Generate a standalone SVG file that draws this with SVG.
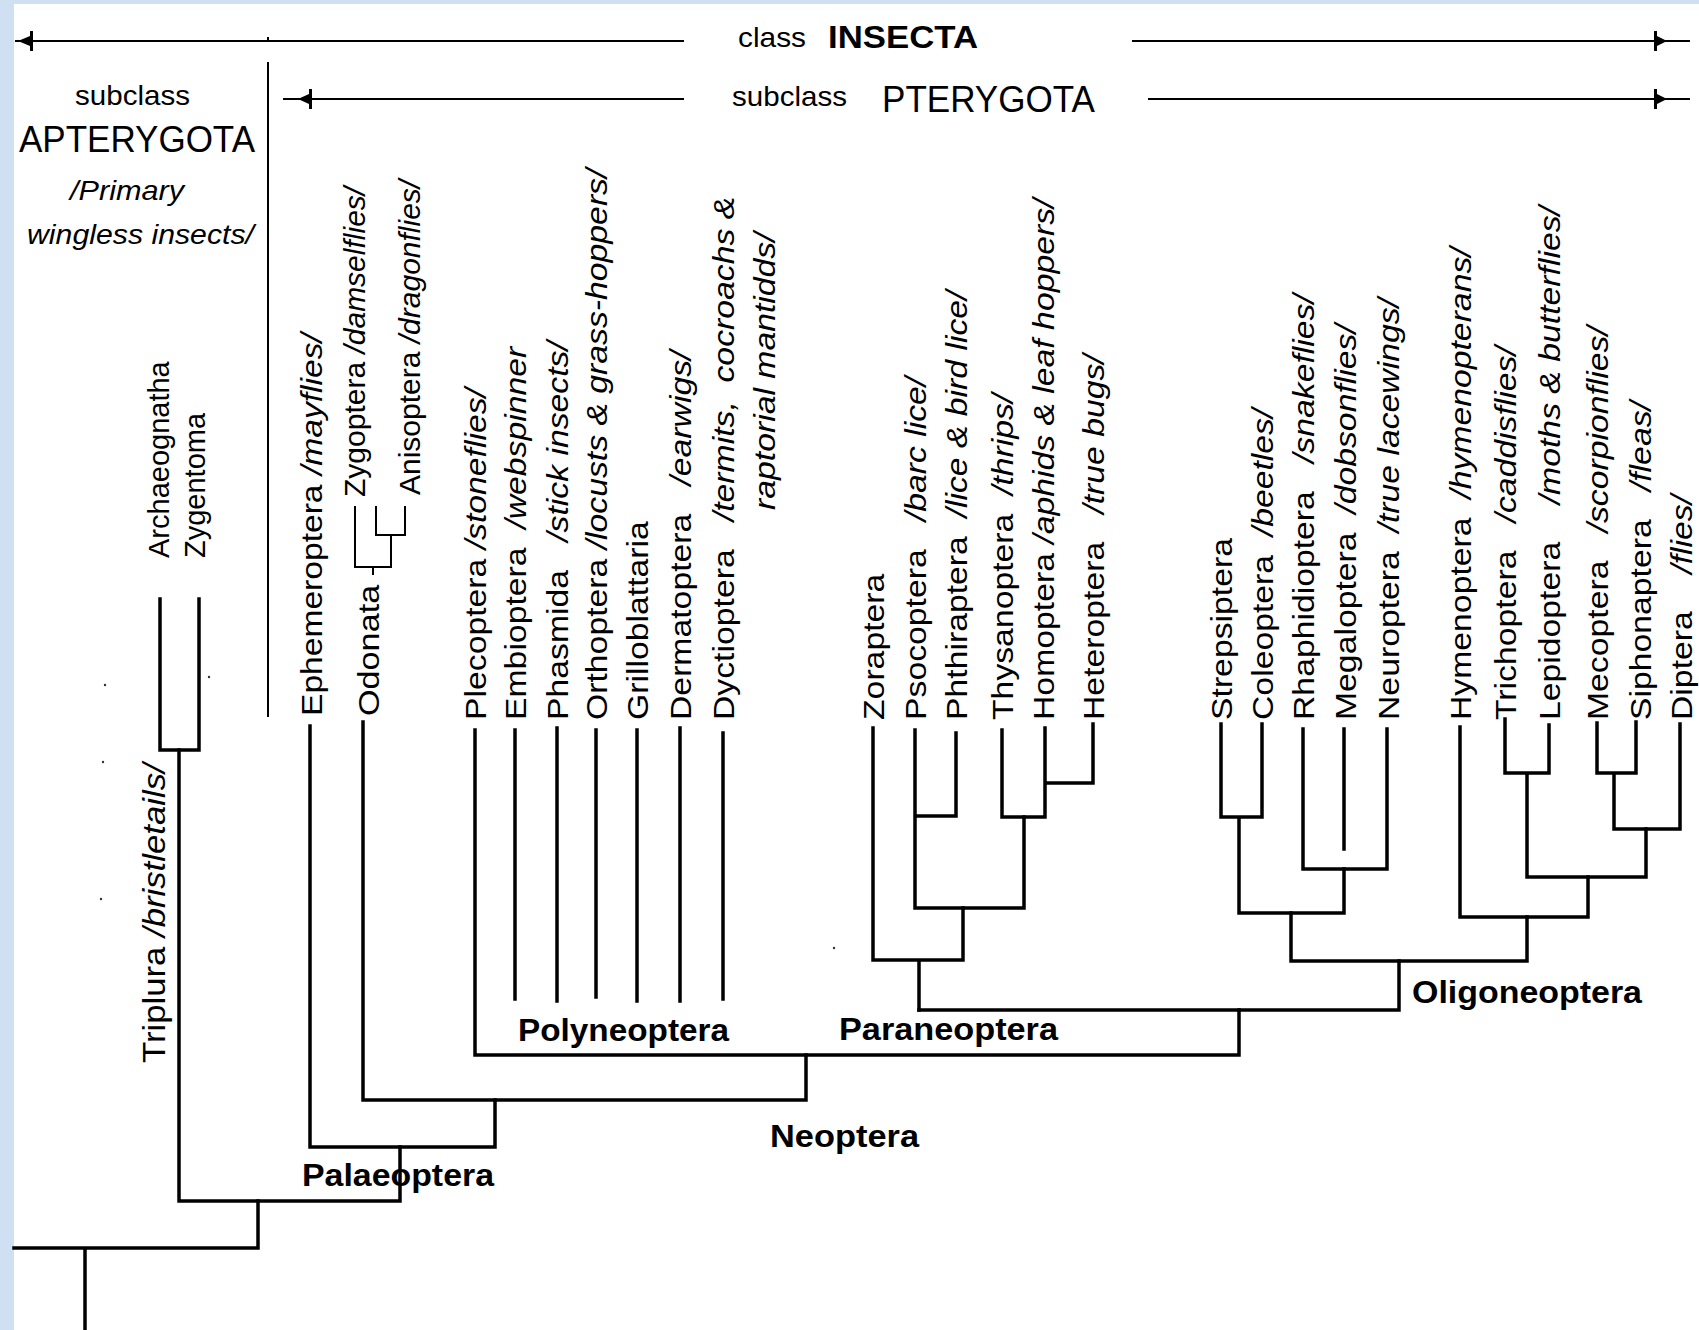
<svg xmlns="http://www.w3.org/2000/svg" width="1699" height="1330" viewBox="0 0 1699 1330">
<style>
.t{font-family:"Liberation Sans",Arial,sans-serif;font-size:30px;fill:#000}
.i{font-style:italic}
.b{font-weight:bold}
.tree{fill:none;stroke:#000;stroke-width:3.5;stroke-linecap:square;stroke-linejoin:miter}
.thin{fill:none;stroke:#000;stroke-width:2}
.ah{fill:#000}
.speck{fill:#333}
</style>
<rect x="0" y="0" width="1699" height="1330" fill="#fff"/>
<rect x="0" y="0" width="1699" height="4" fill="#cfe0f2"/>
<rect x="0" y="0" width="14" height="1330" fill="#cfe0f2"/>

<g id="header">
  <path class="thin" d="M15,41 H684 M1132,41 H1690 M283,99 H684 M1148,99 H1690 M268,62 V717"/>
  <path class="thin" d="M268,37 V40" stroke-width="1"/>
  <polygon class="ah" points="33,31 30,31 30,36 18,41 30,46 30,51 33,51"/>
  <polygon class="ah" points="1654,31 1657,31 1657,36 1667,41 1657,46 1657,51 1654,51"/>
  <polygon class="ah" points="312,89 309,89 309,94 298,99 309,104 309,109 312,109"/>
  <polygon class="ah" points="1654,89 1657,89 1657,94 1667,99 1657,104 1657,109 1654,109"/>
  <text class="t" x="738" y="47" style="font-size:28px" textLength="68" lengthAdjust="spacingAndGlyphs">class</text>
  <text class="t b" x="828" y="48" style="font-size:32px" textLength="150" lengthAdjust="spacingAndGlyphs">INSECTA</text>
  <text class="t" x="732" y="106" style="font-size:28px" textLength="115" lengthAdjust="spacingAndGlyphs">subclass</text>
  <text class="t" x="882" y="112" style="font-size:37px" textLength="213" lengthAdjust="spacingAndGlyphs">PTERYGOTA</text>
  <text class="t" x="75" y="105" style="font-size:28px" textLength="115" lengthAdjust="spacingAndGlyphs">subclass</text>
  <text class="t" x="19" y="152" style="font-size:37px" textLength="236" lengthAdjust="spacingAndGlyphs">APTERYGOTA</text>
  <text class="t i" x="70" y="200" style="font-size:28px" textLength="114" lengthAdjust="spacingAndGlyphs">/Primary</text>
  <text class="t i" x="27" y="244" style="font-size:28px" textLength="227" lengthAdjust="spacingAndGlyphs">wingless insects/</text>
</g>

<g id="connectors" class="tree">
  <path d="M14,1248 H258 V1201 M85,1248 V1330"/>
  <path d="M179,1201 H400 V1147 M179,1201 V750"/>
  <path d="M160,599 V750 H199 V599"/>
  <path d="M310,726 V1147 H495 V1100"/>
  <path d="M363,722 V1100 H806 V1055"/>
  <path d="M475,730 V1055 H1239 V1010"/>
  <path d="M515,730 V999 M557,728 V1001 M596,730 V997 M637,730 V1001 M680,728 V1001 M723,733 V999"/>
  <path d="M919,1010 H1399 V961"/>
  <path d="M873,728 V960 H963 V908 M919,960 V1010"/>
  <path d="M915,730 V908 H1024 V817 M956,733 V816 H915"/>
  <path d="M1002,730 V817 H1045 V728 M1045,783 H1093 V724"/>
  <path d="M1291,913 V961 H1527 V917"/>
  <path d="M1239,817 V913 H1344 V869 M1221,724 V817 H1262 V724"/>
  <path d="M1303,729 V869 H1387 V729 M1344,729 V849"/>
  <path d="M1460,727 V917 H1588 V877"/>
  <path d="M1527,773 V877 H1646 V829 M1505,719 V773 H1549 V725"/>
  <path d="M1614,773 V829 H1680 V724 M1597,723 V773 H1636 V722"/>
  <path class="thin" d="M373,574 V567 M355,507 V567 H391 V535 M376,507 V535 H405 V507"/>
</g>

<g id="specks">
  <circle class="speck" cx="105" cy="685" r="1.2"/>
  <circle class="speck" cx="103" cy="762" r="1.2"/>
  <circle class="speck" cx="101" cy="899" r="1.2"/>
  <circle class="speck" cx="209" cy="677" r="1.2"/>
  <circle class="speck" cx="834" cy="948" r="1.2"/>
</g>

<g id="apterygota">
  <g id="n-archaeognatha"><text class="t" style="font-size:29px" transform="translate(169,558) rotate(-90)">Archaeognatha</text></g>
  <g id="n-zygentoma"><text class="t" style="font-size:29px" transform="translate(205,558) rotate(-90)">Zygentoma</text></g>
  <g id="n-triplura"><text class="t" style="font-size:31px" transform="translate(165,1063) scale(1,1.12) rotate(-90)">Triplura <tspan class="i">/bristletails/</tspan></text></g>
</g>

<g id="palaeoptera">
  <g id="n-ephemeroptera"><text class="t" transform="translate(322,716) scale(1,1.12) rotate(-90)">Ephemeroptera <tspan class="i">/mayflies/</tspan></text></g>
  <g id="n-odonata"><text class="t" transform="translate(379,716) scale(1,1.14) rotate(-90)">Odonata</text></g>
  <g id="n-zygoptera"><text class="t" transform="translate(365,497) rotate(-90)">Zygoptera <tspan class="i">/damselflies/</tspan></text></g>
  <g id="n-anisoptera"><text class="t" transform="translate(420,495) rotate(-90)">Anisoptera <tspan class="i">/dragonflies/</tspan></text></g>
  <g id="l-palaeoptera"><text class="t b" x="302" y="1186" style="font-size:31px" textLength="192" lengthAdjust="spacingAndGlyphs">Palaeoptera</text></g>
  <g id="l-neoptera"><text class="t b" x="770" y="1147" style="font-size:31px" textLength="149" lengthAdjust="spacingAndGlyphs">Neoptera</text></g>
</g>

<g id="polyneoptera">
  <g id="n-plecoptera"><text class="t" transform="translate(486,720) scale(1,1.125) rotate(-90)">Plecoptera <tspan class="i">/stoneflies/</tspan></text></g>
  <g id="n-embioptera"><text class="t" xml:space="preserve" transform="translate(526,720) scale(1,1.125) rotate(-90)">Embioptera  <tspan class="i">/webspinner</tspan></text></g>
  <g id="n-phasmida"><text class="t" xml:space="preserve" transform="translate(568,720) scale(1,1.125) rotate(-90)">Phasmida   <tspan class="i">/stick insects/</tspan></text></g>
  <g id="n-orthoptera"><text class="t" transform="translate(607,720) scale(1,1.125) rotate(-90)">Orthoptera <tspan class="i">/locusts &amp; grass-hoppers/</tspan></text></g>
  <g id="n-grilloblattaria"><text class="t" transform="translate(648,720) scale(1,1.125) rotate(-90)">Grilloblattaria</text></g>
  <g id="n-dermatoptera"><text class="t" xml:space="preserve" transform="translate(691,720) scale(1,1.125) rotate(-90)">Dermatoptera   <tspan class="i">/earwigs/</tspan></text></g>
  <g id="n-dyctioptera">
    <text class="t" xml:space="preserve" transform="translate(734,720) scale(1,1.125) rotate(-90)">Dyctioptera   <tspan class="i">/termits,  cocroachs &amp;</tspan></text>
    <text class="t i" transform="translate(775,510) scale(1,1.125) rotate(-90)">raptorial mantidds/</text>
  </g>
  <g id="l-polyneoptera"><text class="t b" x="518" y="1041" style="font-size:31px" textLength="211" lengthAdjust="spacingAndGlyphs">Polyneoptera</text></g>
</g>

<g id="paraneoptera">
  <g id="n-zoraptera"><text class="t" transform="translate(884,720) scale(1,1.125) rotate(-90)">Zoraptera</text></g>
  <g id="n-psocoptera"><text class="t" xml:space="preserve" transform="translate(926,720) scale(1,1.125) rotate(-90)">Psocoptera   <tspan class="i">/barc lice/</tspan></text></g>
  <g id="n-phthiraptera"><text class="t" xml:space="preserve" transform="translate(967,720) scale(1,1.125) rotate(-90)">Phthiraptera  <tspan class="i">/lice &amp; bird lice/</tspan></text></g>
  <g id="n-thysanoptera"><text class="t" xml:space="preserve" transform="translate(1013,720) scale(1,1.125) rotate(-90)">Thysanoptera  <tspan class="i">/thrips/</tspan></text></g>
  <g id="n-homoptera"><text class="t" transform="translate(1054,720) scale(1,1.125) rotate(-90)">Homoptera <tspan class="i">/aphids &amp; leaf hoppers/</tspan></text></g>
  <g id="n-heteroptera"><text class="t" xml:space="preserve" transform="translate(1104,720) scale(1,1.125) rotate(-90)">Heteroptera   <tspan class="i">/true bugs/</tspan></text></g>
  <g id="l-paraneoptera"><text class="t b" x="839" y="1040" style="font-size:31px" textLength="219" lengthAdjust="spacingAndGlyphs">Paraneoptera</text></g>
</g>

<g id="oligoneoptera">
  <g id="n-strepsiptera"><text class="t" transform="translate(1232,720) scale(1,1.125) rotate(-90)">Strepsiptera</text></g>
  <g id="n-coleoptera"><text class="t" xml:space="preserve" transform="translate(1273,720) scale(1,1.125) rotate(-90)">Coleoptera  <tspan class="i">/beetles/</tspan></text></g>
  <g id="n-rhaphidioptera"><text class="t" xml:space="preserve" transform="translate(1314,720) scale(1,1.125) rotate(-90)">Rhaphidioptera   <tspan class="i">/snakeflies/</tspan></text></g>
  <g id="n-megaloptera"><text class="t" xml:space="preserve" transform="translate(1356,720) scale(1,1.125) rotate(-90)">Megaloptera  <tspan class="i">/dobsonflies/</tspan></text></g>
  <g id="n-neuroptera"><text class="t" xml:space="preserve" transform="translate(1399,720) scale(1,1.125) rotate(-90)">Neuroptera  <tspan class="i">/true lacewings/</tspan></text></g>
  <g id="n-hymenoptera"><text class="t" xml:space="preserve" transform="translate(1471,720) scale(1,1.125) rotate(-90)">Hymenoptera  <tspan class="i">/hymenopterans/</tspan></text></g>
  <g id="n-trichoptera"><text class="t" xml:space="preserve" transform="translate(1516,720) scale(1,1.125) rotate(-90)">Trichoptera   <tspan class="i">/caddisflies/</tspan></text></g>
  <g id="n-lepidoptera"><text class="t" xml:space="preserve" transform="translate(1560,720) scale(1,1.125) rotate(-90)">Lepidoptera    <tspan class="i">/moths &amp; butterflies/</tspan></text></g>
  <g id="n-mecoptera"><text class="t" xml:space="preserve" transform="translate(1608,720) scale(1,1.125) rotate(-90)">Mecoptera   <tspan class="i">/scorpionflies/</tspan></text></g>
  <g id="n-siphonaptera"><text class="t" xml:space="preserve" transform="translate(1651,720) scale(1,1.125) rotate(-90)">Siphonaptera   <tspan class="i">/fleas/</tspan></text></g>
  <g id="n-diptera"><text class="t" xml:space="preserve" transform="translate(1692,720) scale(1,1.125) rotate(-90)">Diptera    <tspan class="i">/flies/</tspan></text></g>
  <g id="l-oligoneoptera"><text class="t b" x="1412" y="1003" style="font-size:31px" textLength="230" lengthAdjust="spacingAndGlyphs">Oligoneoptera</text></g>
</g>
</svg>
